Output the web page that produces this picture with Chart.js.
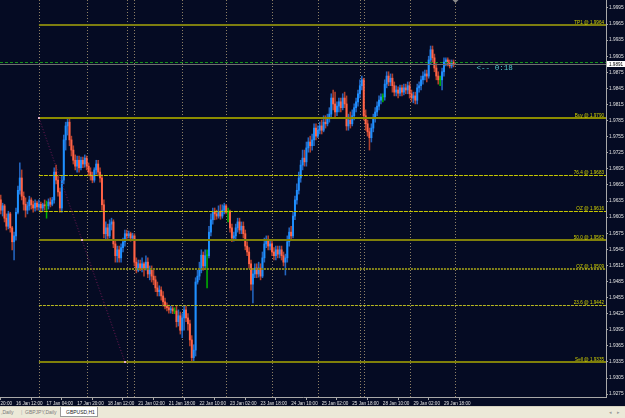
<!DOCTYPE html>
<html><head><meta charset="utf-8">
<script src="https://cdn.jsdelivr.net/npm/chart.js@4.4.1/dist/chart.umd.min.js"></script>
<style>
html,body{margin:0;padding:0;background:#060C24;width:625px;height:418px;overflow:hidden;}
#wrap{position:relative;width:625px;height:418px;}
canvas{display:block;}
#tabs{position:absolute;left:0;top:406px;width:625px;height:12px;background:#ECE9D8;border-top:1px solid #D6D2C2;box-sizing:border-box;font:5px "Liberation Sans",Arial,sans-serif;color:#7A7A7A;}
#tabs span{position:absolute;top:2px;white-space:nowrap;}
#act{position:absolute;left:60px;top:0px;width:38px;height:10px;background:#FFFFFF;border:1px solid #9A9A9A;border-top:none;box-sizing:border-box;}
#act span{left:5px;top:2px;color:#222;}
</style></head>
<body><div id="wrap"><canvas id="c" width="625" height="406"></canvas>
<div id="tabs"><span style="left:1px">,Daily</span><span style="left:21px;color:#aaa">|</span><span style="left:25px">GBPJPY,Daily</span><div id="act"><span>GBPUSD,H1</span></div><span style="left:609px;color:#999">&#9666;</span><span style="left:617px;color:#999">&#9656;</span></div>
</div>
<script>
// ---- data (GBPUSD H1, bar 0 = 16 Jan 04:00) ----
const opens = [
1.9637,1.9618,1.9626,1.9603,1.9588,1.9611,1.9585,1.9559,1.9570,1.9614,
1.9655,1.9678,1.9644,1.9629,1.9618,1.9626,1.9637,1.9628,1.9622,1.9631,
1.9624,1.9629,1.9622,1.9628,1.9626,1.9626,1.9633,1.9629,1.9637,1.9689,
1.9674,1.9652,1.9622,1.9674,1.9749,1.9775,1.9782,1.9749,1.9730,1.9711,
1.9700,1.9711,1.9697,1.9711,1.9704,1.9715,1.9700,1.9689,1.9682,1.9674,
1.9693,1.9704,1.9689,1.9678,1.9628,1.9574,1.9585,1.9570,1.9592,1.9596,
1.9555,1.9533,1.9544,1.9529,1.9548,1.9559,1.9574,1.9570,1.9574,1.9566,
1.9570,1.9521,1.9506,1.9518,1.9510,1.9518,1.9510,1.9521,1.9499,1.9506,
1.9495,1.9488,1.9473,1.9466,1.9469,1.9458,1.9447,1.9439,1.9436,1.9432,
1.9434,1.9430,1.9430,1.9410,1.9421,1.9394,1.9417,1.9432,1.9417,1.9406,
1.9376,1.9343,1.9357,1.9484,1.9495,1.9506,1.9534,1.9514,1.9533,1.9533,
1.9577,1.9600,1.9614,1.9611,1.9607,1.9614,1.9607,1.9618,1.9626,1.9614,
1.9614,1.9585,1.9566,1.9570,1.9585,1.9596,1.9581,1.9588,1.9574,1.9551,
1.9540,1.9518,1.9480,1.9499,1.9510,1.9499,1.9510,1.9495,1.9529,1.9555,
1.9562,1.9551,1.9555,1.9540,1.9533,1.9544,1.9536,1.9544,1.9533,1.9521,
1.9529,1.9559,1.9577,1.9570,1.9607,1.9637,1.9655,1.9678,1.9702,1.9715,
1.9708,1.9734,1.9745,1.9738,1.9749,1.9771,1.9756,1.9767,1.9775,1.9767,
1.9782,1.9779,1.9790,1.9797,1.9827,1.9816,1.9801,1.9812,1.9820,1.9809,
1.9827,1.9816,1.9775,1.9786,1.9779,1.9794,1.9809,1.9820,1.9835,1.9850,
1.9861,1.9794,1.9779,1.9764,1.9753,1.9771,1.9790,1.9801,1.9812,1.9823,
1.9829,1.9829,1.9853,1.9868,1.9857,1.9864,1.9850,1.9838,1.9842,1.9836,
1.9846,1.9838,1.9846,1.9842,1.9850,1.9835,1.9827,1.9831,1.9823,1.9846,
1.9850,1.9861,1.9868,1.9872,1.9868,1.9898,1.9917,1.9902,1.9883,1.9868,
1.9861,1.9861,1.9876,1.9894,1.9898,1.9892,1.9887,1.9894];
const highs = [
1.9646,1.9631,1.9629,1.9611,1.9616,1.9614,1.9588,1.9577,1.9622,1.9663,
1.9706,1.9693,1.9652,1.9641,1.9633,1.9644,1.9641,1.9635,1.9637,1.9635,
1.9637,1.9633,1.9631,1.9637,1.9635,1.9639,1.9641,1.9642,1.9697,1.9702,
1.9682,1.9659,1.9682,1.9758,1.9782,1.9788,1.9788,1.9756,1.9738,1.9721,
1.9719,1.9719,1.9717,1.9717,1.9721,1.9719,1.9706,1.9697,1.9689,1.9697,
1.9711,1.9711,1.9697,1.9684,1.9637,1.9596,1.9592,1.9600,1.9603,1.9600,
1.9562,1.9551,1.9551,1.9555,1.9566,1.9581,1.9581,1.9579,1.9577,1.9575,
1.9574,1.9529,1.9525,1.9525,1.9529,1.9521,1.9533,1.9529,1.9514,1.9514,
1.9506,1.9495,1.9484,1.9477,1.9475,1.9466,1.9454,1.9445,1.9441,1.9439,
1.9438,1.9436,1.9439,1.9432,1.9428,1.9425,1.9439,1.9439,1.9425,1.9413,
1.9384,1.9367,1.9492,1.9506,1.9521,1.9544,1.9540,1.9544,1.9544,1.9588,
1.9611,1.9622,1.9622,1.9618,1.9626,1.9628,1.9628,1.9631,1.9629,1.9622,
1.9618,1.9592,1.9577,1.9592,1.9603,1.9603,1.9596,1.9596,1.9581,1.9559,
1.9548,1.9525,1.9506,1.9518,1.9518,1.9521,1.9518,1.9540,1.9566,1.9570,
1.9570,1.9562,1.9562,1.9548,1.9551,1.9551,1.9551,1.9551,1.9540,1.9536,
1.9570,1.9585,1.9588,1.9614,1.9644,1.9667,1.9689,1.9711,1.9730,1.9730,
1.9745,1.9753,1.9756,1.9760,1.9779,1.9779,1.9775,1.9782,1.9786,1.9794,
1.9794,1.9797,1.9809,1.9835,1.9842,1.9838,1.9820,1.9827,1.9827,1.9835,
1.9838,1.9831,1.9797,1.9801,1.9805,1.9816,1.9827,1.9842,1.9861,1.9868,
1.9864,1.9805,1.9786,1.9771,1.9779,1.9797,1.9809,1.9820,1.9831,1.9835,
1.9835,1.9861,1.9876,1.9876,1.9872,1.9872,1.9857,1.9850,1.9848,1.9851,
1.9851,1.9853,1.9853,1.9857,1.9857,1.9842,1.9838,1.9838,1.9853,1.9857,
1.9868,1.9876,1.9879,1.9879,1.9905,1.9924,1.9924,1.9909,1.9891,1.9876,
1.9868,1.9883,1.9902,1.9902,1.9902,1.9898,1.9898,1.9898];
const lows = [
1.9611,1.9607,1.9596,1.9581,1.9583,1.9577,1.9544,1.9525,1.9562,1.9611,
1.9648,1.9637,1.9618,1.9605,1.9611,1.9618,1.9620,1.9614,1.9616,1.9618,
1.9618,1.9614,1.9616,1.9618,1.9603,1.9620,1.9624,1.9626,1.9631,1.9667,
1.9644,1.9614,1.9614,1.9667,1.9730,1.9758,1.9738,1.9719,1.9704,1.9693,
1.9689,1.9689,1.9693,1.9697,1.9698,1.9693,1.9682,1.9674,1.9669,1.9670,
1.9685,1.9682,1.9670,1.9618,1.9566,1.9562,1.9562,1.9566,1.9581,1.9548,
1.9521,1.9521,1.9521,1.9521,1.9540,1.9551,1.9562,1.9566,1.9560,1.9562,
1.9514,1.9501,1.9503,1.9505,1.9503,1.9495,1.9506,1.9492,1.9488,1.9484,
1.9479,1.9466,1.9458,1.9458,1.9450,1.9439,1.9434,1.9430,1.9426,1.9426,
1.9425,1.9425,1.9400,1.9402,1.9387,1.9380,1.9394,1.9410,1.9394,1.9365,
1.9335,1.9335,1.9346,1.9480,1.9488,1.9501,1.9506,1.9510,1.9473,1.9529,
1.9570,1.9592,1.9600,1.9601,1.9603,1.9601,1.9603,1.9611,1.9611,1.9596,
1.9577,1.9559,1.9560,1.9562,1.9577,1.9574,1.9574,1.9566,1.9544,1.9533,
1.9510,1.9469,1.9445,1.9492,1.9492,1.9493,1.9488,1.9492,1.9521,1.9548,
1.9544,1.9544,1.9533,1.9525,1.9525,1.9529,1.9529,1.9525,1.9514,1.9497,
1.9521,1.9551,1.9562,1.9566,1.9600,1.9629,1.9648,1.9670,1.9693,1.9700,
1.9700,1.9726,1.9726,1.9730,1.9738,1.9749,1.9753,1.9760,1.9760,1.9764,
1.9771,1.9775,1.9782,1.9790,1.9805,1.9790,1.9794,1.9801,1.9801,1.9805,
1.9809,1.9767,1.9767,1.9771,1.9775,1.9786,1.9801,1.9812,1.9827,1.9842,
1.9786,1.9767,1.9756,1.9730,1.9745,1.9764,1.9782,1.9794,1.9805,1.9816,
1.9820,1.9823,1.9846,1.9850,1.9850,1.9838,1.9831,1.9831,1.9827,1.9831,
1.9831,1.9833,1.9835,1.9835,1.9827,1.9820,1.9818,1.9816,1.9816,1.9838,
1.9842,1.9853,1.9861,1.9857,1.9864,1.9891,1.9894,1.9876,1.9861,1.9853,
1.9850,1.9842,1.9868,1.9887,1.9887,1.9883,1.9883,1.9885];
const closes = [
1.9618,1.9626,1.9603,1.9588,1.9611,1.9585,1.9559,1.9570,1.9614,1.9655,
1.9678,1.9644,1.9629,1.9618,1.9626,1.9637,1.9628,1.9622,1.9631,1.9624,
1.9629,1.9622,1.9628,1.9626,1.9626,1.9633,1.9629,1.9637,1.9689,1.9674,
1.9652,1.9622,1.9674,1.9749,1.9775,1.9782,1.9749,1.9730,1.9711,1.9700,
1.9711,1.9697,1.9711,1.9704,1.9715,1.9700,1.9689,1.9682,1.9674,1.9693,
1.9704,1.9689,1.9678,1.9628,1.9574,1.9585,1.9570,1.9592,1.9596,1.9555,
1.9533,1.9544,1.9529,1.9548,1.9559,1.9574,1.9570,1.9574,1.9566,1.9570,
1.9521,1.9506,1.9518,1.9510,1.9518,1.9510,1.9521,1.9499,1.9506,1.9495,
1.9488,1.9473,1.9466,1.9469,1.9458,1.9447,1.9439,1.9436,1.9432,1.9434,
1.9430,1.9430,1.9410,1.9421,1.9394,1.9417,1.9432,1.9417,1.9406,1.9376,
1.9343,1.9357,1.9484,1.9495,1.9506,1.9534,1.9514,1.9533,1.9533,1.9577,
1.9600,1.9614,1.9611,1.9607,1.9614,1.9607,1.9618,1.9626,1.9614,1.9614,
1.9585,1.9566,1.9570,1.9585,1.9596,1.9581,1.9588,1.9574,1.9551,1.9540,
1.9518,1.9480,1.9499,1.9510,1.9499,1.9510,1.9495,1.9529,1.9555,1.9562,
1.9551,1.9555,1.9540,1.9533,1.9544,1.9536,1.9544,1.9533,1.9521,1.9529,
1.9559,1.9577,1.9570,1.9607,1.9637,1.9655,1.9678,1.9702,1.9715,1.9708,
1.9734,1.9745,1.9738,1.9749,1.9771,1.9756,1.9767,1.9775,1.9767,1.9782,
1.9779,1.9790,1.9797,1.9827,1.9816,1.9801,1.9812,1.9820,1.9809,1.9827,
1.9816,1.9775,1.9786,1.9779,1.9794,1.9809,1.9820,1.9835,1.9850,1.9861,
1.9794,1.9779,1.9764,1.9753,1.9771,1.9790,1.9801,1.9812,1.9823,1.9829,
1.9829,1.9853,1.9868,1.9857,1.9864,1.9850,1.9838,1.9842,1.9836,1.9846,
1.9838,1.9846,1.9842,1.9850,1.9835,1.9827,1.9831,1.9823,1.9846,1.9850,
1.9861,1.9868,1.9872,1.9868,1.9898,1.9917,1.9902,1.9883,1.9868,1.9861,
1.9861,1.9876,1.9894,1.9898,1.9892,1.9887,1.9894,1.9891];

const xTickBars = [-8,8,24,40,56,72,88,104,120,136,152,168,184,200,216,232];
const xTickLabels = ['15 Jan 20:00','16 Jan 12:00','17 Jan 04:00','17 Jan 20:00','18 Jan 12:00','21 Jan 02:00','21 Jan 18:00','22 Jan 10:00','23 Jan 02:00','23 Jan 18:00','24 Jan 10:00','25 Jan 02:00','25 Jan 18:00','28 Jan 10:00','29 Jan 02:00','29 Jan 18:00'];
const yTicks = [1.9275,1.9305,1.9335,1.9365,1.9395,1.9425,1.9455,1.9485,1.9515,1.9545,1.9575,1.9605,1.9635,1.9665,1.9695,1.9725,1.9755,1.9785,1.9815,1.9845,1.9875,1.9905,1.9935,1.9965,1.9995];
const separatorBars = [20,45,66,70,95,118,142,166,188,190,214,238];
const levelValues = [1.9964,1.9790,1.9683,1.9616,1.9562,1.9509,1.9442,1.9335];
const levelLabels = ['TP1 @ 1.9964','Buy @ 1.9790','76.4 @ 1.9683','OZ @ 1.9616','50.0 @ 1.9562','OZ @ 1.9509','23.6 @ 1.9442','Sell @ 1.9335'];
const levelStartBar = 20;
const fibPoints = [{bar:20, price:1.9790},{bar:42.5, price:1.95625},{bar:65, price:1.9335}];
const bidPrice = 1.9891, askPrice = 1.9894;
const countdownText = '<-- 0:18', countdownBar = 249;
const shiftBar = 238;

// ---- view ----
const Y_MIN = 1.92696, Y_MAX = 2.00098, X_MIN = -0.37, X_MAX = 316.8;
const BG = '#050B23';
const BULL = '#1E90FF', BEAR = '#FF6347', DOJI = '#00B000';
const BULL_W = '#2466c0', BEAR_W = '#b2402c';
const levelStyles = [
  {c:'#7E7E10', w:2, d:[]},
  {c:'#8C8C00', w:2, d:[]},
  {c:'#C8C800', w:1, d:[4,1]},
  {c:'#C8C800', w:1, d:[4,1]},
  {c:'#80800A', w:2, d:[]},
  {c:'#84841A', w:2, d:[2,1]},
  {c:'#B8B820', w:1, d:[3,1]},
  {c:'#80800A', w:2, d:[]}
];

const n = closes.length;
if (![opens,highs,lows].every(a=>a.length===n)) throw new Error('length mismatch '+[opens.length,highs.length,lows.length,n]);
const idx = closes.map((_,i)=>i);
const dir = i => closes[i] > opens[i] ? 1 : (closes[i] < opens[i] ? -1 : 0);

const mt4 = {
  id:'mt4',
  beforeDraw(chart){ const c=chart.ctx; c.save(); c.fillStyle=BG; c.fillRect(0,0,chart.width,chart.height); c.restore(); },
  beforeDatasetsDraw(chart){
    const c=chart.ctx, xs=chart.scales.x, a=chart.chartArea;
    c.save(); c.strokeStyle='#8E8066'; c.lineWidth=1; c.setLineDash([1,2]);
    separatorBars.forEach(b=>{ const x=Math.round(xs.getPixelForValue(b))+0.5; c.beginPath(); c.moveTo(x,a.top); c.lineTo(x,a.bottom); c.stroke(); });
    c.restore();
  },
  afterDatasetsDraw(chart){
    const c=chart.ctx, xs=chart.scales.x, ys=chart.scales.y, a=chart.chartArea;
    c.save();
    const x0 = xs.getPixelForValue(levelStartBar);
    levelValues.forEach((v,i)=>{
      const s=levelStyles[i]; let y=ys.getPixelForValue(v);
      y = s.w%2 ? Math.round(y)+0.5 : Math.round(y);
      c.strokeStyle=s.c; c.lineWidth=s.w; c.setLineDash(s.d);
      c.beginPath(); c.moveTo(x0,y); c.lineTo(a.right,y); c.stroke();
      c.setLineDash([]);
      c.fillStyle='#D2D200'; c.font='4.6px "Liberation Sans", Arial'; c.textAlign='right'; c.textBaseline='alphabetic';
      c.fillText(levelLabels[i], a.right-2, Math.round(ys.getPixelForValue(v))-1.5);
    });
    // fib trendline
    c.strokeStyle='#741a55'; c.lineWidth=1; c.setLineDash([1,2]);
    c.beginPath();
    c.moveTo(xs.getPixelForValue(fibPoints[0].bar), ys.getPixelForValue(fibPoints[0].price));
    c.lineTo(xs.getPixelForValue(fibPoints[2].bar), ys.getPixelForValue(fibPoints[2].price));
    c.stroke(); c.setLineDash([]);
    c.fillStyle='#E6AFC0';
    fibPoints.forEach(p=>{ const x=xs.getPixelForValue(p.bar), y=ys.getPixelForValue(p.price); c.fillRect(Math.round(x)-1,Math.round(y)-1,2,2); });
    // ask / bid lines
    let ya=Math.round(ys.getPixelForValue(askPrice))+0.5;
    c.strokeStyle='#13901a'; c.lineWidth=1; c.setLineDash([3,2]);
    c.beginPath(); c.moveTo(a.left,ya); c.lineTo(a.right,ya); c.stroke();
    let yb=Math.round(ys.getPixelForValue(bidPrice))+0.5;
    c.strokeStyle='#6E6E6E'; c.setLineDash([]);
    c.beginPath(); c.moveTo(a.left,yb); c.lineTo(a.right,yb); c.stroke();
    // countdown
    c.fillStyle='#55C4C8'; c.font='7.6px "Liberation Mono", monospace'; c.textAlign='left'; c.textBaseline='middle';
    c.fillText(countdownText, xs.getPixelForValue(countdownBar), yb+3.5);
    c.restore();
  },
  afterDraw(chart){
    const c=chart.ctx, xs=chart.scales.x, ys=chart.scales.y, a=chart.chartArea;
    c.save();
    const yb=Math.round(ys.getPixelForValue(bidPrice));
    c.fillStyle='#FFFFFF'; c.fillRect(a.right+1, yb-3, 18, 6);
    c.fillStyle='#000'; c.font='4.6px "Liberation Sans", Arial'; c.textAlign='left'; c.textBaseline='middle';
    c.fillText(bidPrice.toFixed(4), a.right+3, yb+0.3);
    const xs0 = Math.round(xs.getPixelForValue(shiftBar))+0.5;
    c.fillStyle='#8A8A8A'; c.beginPath(); c.moveTo(xs0-3,0); c.lineTo(xs0+3,0); c.lineTo(xs0,3); c.closePath(); c.fill();
    c.restore();
  }
};

new Chart(document.getElementById('c'), {
  type:'bar',
  data:{ datasets:[
    { label:'body', data: idx.map(i=>({x:i, y:[opens[i], closes[i]]})), barThickness:1.3, minBarLength:1, grouped:false, borderWidth:0,
      backgroundColor: ctx => { const d=dir(ctx.dataIndex); return d>0?BULL:(d<0?BEAR:DOJI); } },
    { label:'wick', data: idx.map(i=>({x:i, y:[lows[i], highs[i]]})), barThickness:0.9, grouped:false, borderWidth:0,
      backgroundColor: ctx => { const d=dir(ctx.dataIndex); return d>0?BULL_W:(d<0?BEAR_W:DOJI); } }
  ]},
  options:{
    responsive:false, animation:false, devicePixelRatio:1,
    layout:{padding:0},
    plugins:{legend:{display:false}, tooltip:{enabled:false}},
    scales:{
      x:{ type:'linear', min:X_MIN, max:X_MAX, offset:false,
        afterBuildTicks: s => { s.ticks = xTickBars.map(v=>({value:v})); },
        afterFit: s => { s.height = 9; s.paddingLeft=0; s.paddingRight=0; },
        ticks:{ autoSkip:false, maxRotation:0, minRotation:0, align:'start', color:'#E0E0E0', padding:1,
          font:{size:4.6, family:'"Liberation Sans", Arial'},
          callback: v => xTickLabels[xTickBars.indexOf(v)] },
        grid:{ display:true, drawOnChartArea:false, drawTicks:true, tickLength:3, color:'#A8A8A8' },
        border:{ display:true, color:'#A8A8A8' }
      },
      y:{ position:'right', min:Y_MIN, max:Y_MAX,
        afterBuildTicks: s => { s.ticks = yTicks.map(v=>({value:v})); },
        afterFit: s => { s.width = 19; s.paddingTop=0; s.paddingBottom=0; },
        ticks:{ color:'#E0E0E0', padding:1, font:{size:4.8, family:'"Liberation Sans", Arial'},
          callback: v => v.toFixed(4) },
        grid:{ display:true, drawOnChartArea:false, drawTicks:true, tickLength:2, color:'#A8A8A8' },
        border:{ display:true, color:'#A8A8A8' }
      }
    }
  },
  plugins:[mt4]
});
</script></body></html>
